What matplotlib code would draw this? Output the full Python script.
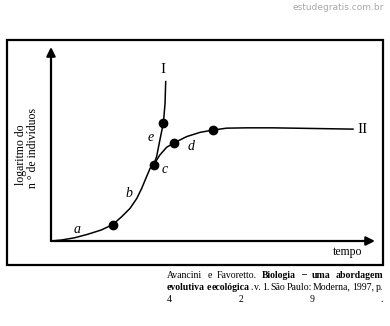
import matplotlib.pyplot as plt
from matplotlib.patches import Rectangle

# curve (time, log of number of individuals)
trunk_t = [0.0, 0.32, 0.73, 1.14, 1.55, 1.91, 2.18, 2.44, 2.65, 2.80, 2.95, 3.06, 3.17]
trunk_y = [0.0, 0.03, 0.10, 0.21, 0.34, 0.51, 0.75, 1.01, 1.32, 1.63, 1.99, 2.25, 2.36]

curve1_t = [3.17, 3.26, 3.36, 3.47, 3.52, 3.54]
curve1_y = [2.36, 2.61, 3.12, 3.66, 4.26, 4.93]

curve2_t = [3.17, 3.36, 3.57, 3.81, 4.19, 4.60, 4.99, 5.42, 6.04, 6.45, 6.85, 8.09, 9.32]
curve2_y = [2.36, 2.66, 2.90, 3.04, 3.23, 3.36, 3.43, 3.49, 3.50, 3.50, 3.50, 3.48, 3.46]

dots_t = [1.91, 3.17, 3.47, 3.81, 4.99]
dots_y = [0.51, 2.36, 3.66, 3.04, 3.43]

letters = ["a", "b", "c", "e", "d"]
letters_t = [0.80, 2.41, 3.50, 3.06, 4.32]
letters_y = [0.37, 1.48, 2.20, 3.19, 2.91]

curve_names = ["I", "II"]
curve_names_t = [3.46, 9.63]
curve_names_y = [5.29, 3.46]

W, H = 390, 326

def fx(x):
    return x / W

def fy(y):
    return 1 - y / H

fig = plt.figure(figsize=(3.9, 3.26), dpi=100)

# outer frame
fig.patches.append(Rectangle((fx(7), fy(265)), (383 - 7) / W, (265 - 40) / H,
                             transform=fig.transFigure, fill=False,
                             edgecolor="black", lw=1.6))

ax = fig.add_axes([fx(51), fy(241), (375 - 51) / W, (241 - 47) / H])
ax.set_xlim(0, 10)
ax.set_ylim(0, 6)
ax.axis("off")

# axes with arrows
arrow = dict(arrowstyle="-|>", lw=1.6, color="black", mutation_scale=13,
             shrinkA=0, shrinkB=0)
ax.annotate("", xy=(10, 0), xytext=(0, 0), arrowprops=arrow, annotation_clip=False)
ax.annotate("", xy=(0, 6), xytext=(0, 0), arrowprops=arrow, annotation_clip=False)

for t, y in [(trunk_t, trunk_y), (curve1_t, curve1_y), (curve2_t, curve2_y)]:
    ax.plot(t, y, color="black", lw=1.1, clip_on=False, solid_joinstyle="round")
ax.plot(dots_t, dots_y, "o", color="black", ms=6, clip_on=False)

serif = "Liberation Serif"
for s, t, y in zip(letters, letters_t, letters_y):
    ax.text(t, y, s, family=serif, style="italic", fontsize=10,
            ha="center", va="center")
for s, t, y in zip(curve_names, curve_names_t, curve_names_y):
    ax.text(t, y, s, family=serif, fontsize=11, ha="center", va="center")

fig.text(fx(348), fy(252), "tempo", family=serif, fontsize=8.5,
         ha="center", va="center")
fig.text(fx(21), fy(155), "logaritmo do", family=serif, fontsize=8.5,
         rotation=90, ha="center", va="center")
fig.text(fx(33), fy(148), "n ° de indivíduos", family=serif, fontsize=8.5,
         rotation=90, ha="center", va="center")

# watermark
fig.text(fx(384), fy(8), "estudegratis.com.br", fontsize=6.5, color="#a8a8a8",
         ha="right", va="center")

# citation, justified between x=167 and x=383
# (word, bold, glued to previous word)
citation = [
    (275, [("Avancini", False, False), ("e", False, False), ("Favoretto.", False, False),
           ("Biologia", True, False), ("–", True, False), ("uma", True, False),
           ("abordagem", True, False)]),
    (287, [("evolutiva", True, False), ("e", True, False), ("ecológica", True, False),
           (".", False, True), ("v.", False, False), ("1.", False, False),
           ("São", False, False), ("Paulo:", False, False), ("Moderna,", False, False),
           ("1997,", False, False), ("p.", False, False)]),
    (300, [("4", False, False), ("2", False, False), ("9", False, False),
           (".", False, False)]),
]
renderer = fig.canvas.get_renderer()
left, right = 167, 383
for y, words in citation:
    items = []
    for w, bold, glued in words:
        t = fig.text(0, fy(y), w, family=serif, fontsize=7,
                     weight="bold" if bold else "normal", ha="left", va="center")
        items.append((t, t.get_window_extent(renderer).width, glued))
    total = sum(wd for _, wd, _ in items)
    gaps = sum(1 for _, _, g in items[1:] if not g)
    gap = (right - left - total) / gaps
    x = left
    for i, (t, wd, glued) in enumerate(items):
        if i > 0 and not glued:
            x += gap
        t.set_x(fx(x))
        x += wd

fig.savefig("out.png", dpi=100)
